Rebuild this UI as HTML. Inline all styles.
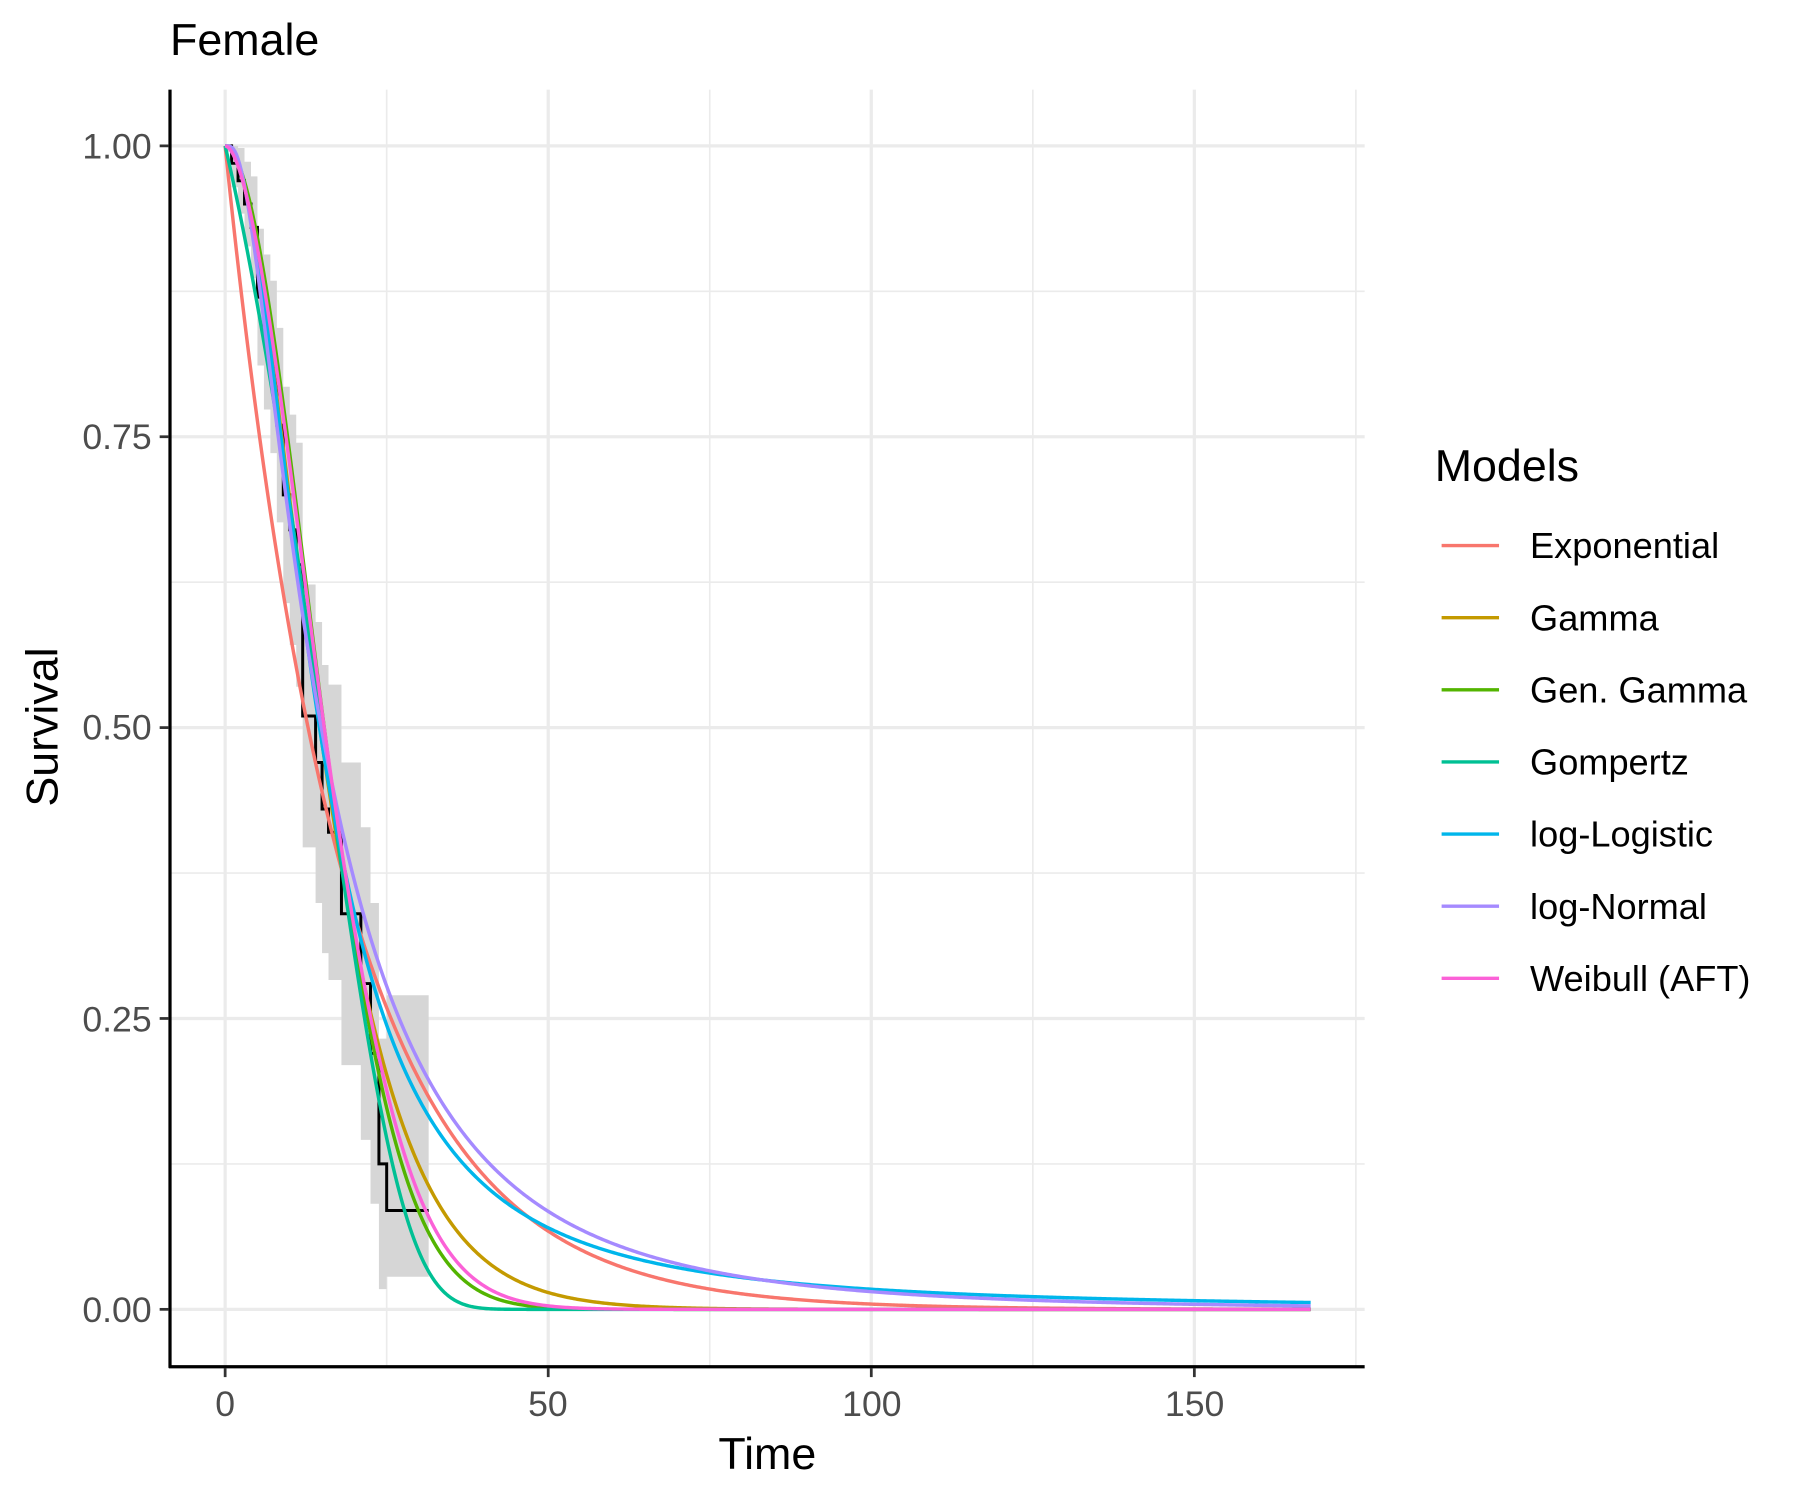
<!DOCTYPE html>
<html><head><meta charset="utf-8"><style>
html,body{margin:0;padding:0;background:#fff;}
svg{display:block;font-family:"Liberation Sans",Arial,sans-serif;}
</style></head><body>
<svg id="s" width="1800" height="1500" viewBox="0 0 1567 1306" preserveAspectRatio="none" xmlns="http://www.w3.org/2000/svg">
<rect width="1600" height="1320" fill="#fff"/>
<g id="grid"></g>
<path id="band" fill="#d6d6d6" stroke="none"/>
<path id="km" fill="none" stroke="#000" stroke-width="2.6"/>
<g id="curves" fill="none" stroke-width="3"></g>
<line x1="148" y1="78" x2="148" y2="1191" stroke="#000" stroke-width="2.8"/>
<line x1="147" y1="1190" x2="1188" y2="1190" stroke="#000" stroke-width="2.8"/>
<g id="ticks" stroke="#333" stroke-width="2.4"></g>
<g font-size="31" fill="#4d4d4d" text-anchor="end">
<text x="132" y="138">1.00</text><text x="132" y="391">0.75</text><text x="132" y="644">0.50</text><text x="132" y="898">0.25</text><text x="132" y="1151">0.00</text>
</g>
<g font-size="31" fill="#4d4d4d" text-anchor="middle">
<text x="196" y="1233">0</text><text x="477" y="1233">50</text><text x="759" y="1233">100</text><text x="1040" y="1233">150</text>
</g>
<text x="668" y="1279" font-size="39" text-anchor="middle">Time</text>
<text transform="translate(50,633) rotate(-90)" font-size="39" text-anchor="middle">Survival</text>
<text x="148" y="48" font-size="39">Female</text>
<text x="1249" y="419" font-size="39">Models</text>
<g id="legend" font-size="31.5"></g>
</svg>
<script>
var X=function(t){return 196+t*5.625;},Y=function(s){return 1140-s*1013;};
var g=document.getElementById('grid'),h='';
[25,75,125,175].forEach(function(t){h+='<line x1="'+X(t)+'" y1="78" x2="'+X(t)+'" y2="1190" stroke="#ebebeb" stroke-width="1.4"/>';});
[0.125,0.375,0.625,0.875].forEach(function(s){h+='<line x1="148" y1="'+Y(s)+'" x2="1188" y2="'+Y(s)+'" stroke="#ebebeb" stroke-width="1.4"/>';});
[0,50,100,150].forEach(function(t){h+='<line x1="'+X(t)+'" y1="78" x2="'+X(t)+'" y2="1190" stroke="#ebebeb" stroke-width="2.8"/>';});
[0,0.25,0.5,0.75,1].forEach(function(s){h+='<line x1="148" y1="'+Y(s)+'" x2="1188" y2="'+Y(s)+'" stroke="#ebebeb" stroke-width="2.8"/>';});
g.innerHTML=h;
var tk='';
[0,50,100,150].forEach(function(t){tk+='<line x1="'+X(t)+'" y1="1191" x2="'+X(t)+'" y2="1199"/>';});
[0,0.25,0.5,0.75,1].forEach(function(s){tk+='<line x1="139" y1="'+Y(s)+'" x2="147" y2="'+Y(s)+'"/>';});
document.getElementById('ticks').innerHTML=tk;
var km=[[0,1],[1,0.985],[2,0.97],[3,0.95],[4,0.93],[5,0.87],[6,0.84],[7,0.81],[8,0.76],[9,0.70],[10,0.67],[11,0.64],[12,0.51],[14,0.47],[15,0.43],[16,0.41],[18,0.34],[21,0.28],[22.5,0.22],[23.8,0.125],[25,0.085]];
var tend=31.5;
var d='M'+X(0)+' '+Y(1),up=[],lo=[];
for(var i=0;i<km.length;i++){var t0=km[i][0],s=km[i][1],t1=i+1<km.length?km[i+1][0]:tend;
 d+=' L'+X(t0)+' '+Y(s)+' L'+X(t1)+' '+Y(s);
 var w=0.12*Math.sqrt(s*(1-s))*(1+t0/15)+0.005;var u=Math.min(1,s+w),l=Math.max(0,s-w);
 if(i==km.length-1){u=0.27;l=0.028;}
 up.push([t0,u],[t1,u]);lo.push([t0,l],[t1,l]);}
document.getElementById('km').setAttribute('d',d);
var b='M'+up.map(function(p){return X(p[0])+' '+Y(p[1]);}).join(' L');
lo.reverse();b+=' L'+lo.map(function(p){return X(p[0])+' '+Y(p[1]);}).join(' L')+'Z';
document.getElementById('band').setAttribute('d',b);
function lgam(z){var c=[76.18009172947146,-86.50532032941677,24.01409824083091,-1.231739572450155,0.1208650973866179e-2,-0.5395239384953e-5];var x=z,y=z,tmp=x+5.5;tmp-=(x+0.5)*Math.log(tmp);var ser=1.000000000190015;for(var j=0;j<6;j++)ser+=c[j]/++y;return -tmp+Math.log(2.5066282746310005*ser/x);}
function gammaQ(a,x){if(x<=0)return 1;if(x<a+1){var sum=1/a,del=sum,ap=a;for(var n=0;n<200;n++){ap++;del*=x/ap;sum+=del;}return 1-sum*Math.exp(-x+a*Math.log(x)-lgam(a));}
 var bb=x+1-a,c=1e30,dd=1/bb,hh=dd;for(var i=1;i<200;i++){var an=-i*(i-a);bb+=2;dd=an*dd+bb;if(Math.abs(dd)<1e-30)dd=1e-30;c=bb+an/c;if(Math.abs(c)<1e-30)c=1e-30;dd=1/dd;hh*=dd*c;}return Math.exp(-x+a*Math.log(x)-lgam(a))*hh;}
function erfc(x){var z=Math.abs(x),t=1/(1+0.5*z);var r=t*Math.exp(-z*z-1.26551223+t*(1.00002368+t*(0.37409196+t*(0.09678418+t*(-0.18628806+t*(0.27886807+t*(-1.13520398+t*(1.48851587+t*(-0.82215223+t*0.17087277)))))))));return x>=0?r:2-r;}
var models=[
 ['Exponential','#F8766D',function(t){return Math.exp(-0.054*t);}],
 ['Gamma','#C49A00',function(t){return gammaQ(2.3,0.135*t);}],
 ['Gen. Gamma','#53B400',function(t){return Math.exp(-Math.pow(t/18.6,1.9));}],
 ['Gompertz','#00C094',function(t){return Math.exp(-0.3*(Math.exp(0.08*t)-1));}],
 ['log-Logistic','#00B6EB',function(t){return 1/(1+Math.pow(t/14.6,2.1));}],
 ['log-Normal','#A58AFF',function(t){if(t<=0)return 1;return 0.5*erfc((Math.log(t)-2.7)/0.88/Math.SQRT2);}],
 ['Weibull (AFT)','#FB61D7',function(t){return Math.exp(-Math.pow(t/18.8,1.8));}]];
var cs='',lg='';
models.forEach(function(m,k){var p='';for(var t=0;t<=168;t+=0.25){p+=(t?' L':'M')+X(t).toFixed(2)+' '+Y(m[2](t)).toFixed(2);}
 cs+='<path d="'+p+'" stroke="'+m[1]+'"/>';
 var yy=475+k*62.8;lg+='<line x1="1255" y1="'+yy+'" x2="1305" y2="'+yy+'" stroke="'+m[1]+'" stroke-width="3"/><text x="1332" y="'+(yy+11)+'">'+m[0]+'</text>';});
document.getElementById('curves').innerHTML=cs;
document.getElementById('legend').innerHTML=lg;
</script>
</body></html>
